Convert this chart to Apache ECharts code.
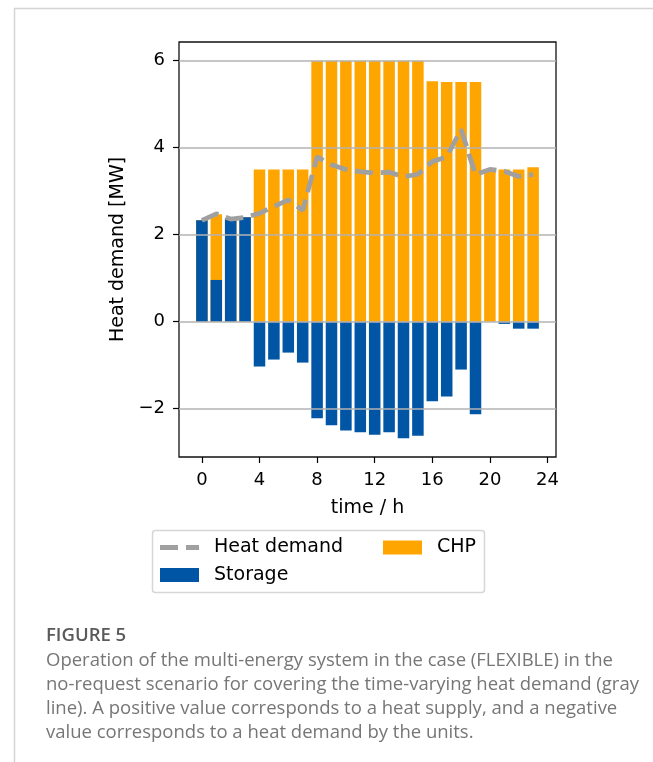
<!DOCTYPE html>
<html>
<head>
<meta charset="utf-8">
<script src="https://cdn.jsdelivr.net/npm/echarts@6/dist/echarts.min.js"></script>
<style>
html,body{margin:0;padding:0;background:#fff;}
#chart{width:653px;height:762px;}
</style>
</head>
<body>
<div id="chart"></div>
<script>
// ---- data ----
const hours = [0,1,2,3,4,5,6,7,8,9,10,11,12,13,14,15,16,17,18,19,20,21,22,23];
const storage = [2.33,0.96,2.38,2.40,-1.03,-0.87,-0.71,-0.94,-2.22,-2.38,-2.50,-2.54,-2.60,-2.54,-2.68,-2.62,-1.83,-1.72,-1.10,-2.13,0.00,-0.05,-0.16,-0.16];
const chp = [0,1.51,0,0,3.50,3.50,3.50,3.50,6.00,6.00,6.00,6.00,6.00,6.00,6.00,6.00,5.53,5.51,5.51,5.51,3.50,3.50,3.50,3.55];
const demand = [2.33,2.48,2.36,2.40,2.49,2.65,2.80,2.56,3.79,3.61,3.50,3.45,3.42,3.44,3.33,3.39,3.68,3.79,4.42,3.38,3.50,3.46,3.34,3.38];
const xTicks = [0,4,8,12,16,20,24];
const yTicks = [-2,0,2,4,6];
const captionTitle = 'FIGURE 5';
const captionLines = [
  'Operation of the multi-energy system in the case (FLEXIBLE) in the',
  'no-request scenario for covering the time-varying heat demand (gray',
  'line). A positive value corresponds to a heat supply, and a negative',
  'value corresponds to a heat demand by the units.'
];

// ---- layout ----
const G = {left:179, top:42, width:377, height:415};
const X = {min:-1.59, max:24.59};
const Y = {min:-3.11, max:6.43};
const pxPerX = G.width/(X.max-X.min);
const barW = 0.8*pxPerX;
const FONT = 'DejaVu Sans';
const minus = v => v<0 ? '\u2212'+Math.abs(v) : String(v);
// CHP sits on top of the positive part of storage
const chpTop = chp.map((c,i)=> c + Math.max(storage[i],0));

const chart = echarts.init(document.getElementById('chart'), null, {renderer:'canvas'});
const capFont = 'Open Sans';
const graphics = [
  {type:'line', shape:{x1:14,y1:8.5,x2:653,y2:8.5}, style:{stroke:'#d4d4d4',lineWidth:1.5}, silent:true},
  {type:'line', shape:{x1:14.5,y1:8,x2:14.5,y2:762}, style:{stroke:'#d4d4d4',lineWidth:1.5}, silent:true},
  {type:'rect', shape:{x:152.5,y:530.5,width:332,height:62,r:3}, style:{fill:'#fff',stroke:'#d6d6d6',lineWidth:1.5}, z:-1, silent:true},
  {type:'text', left:46, top:626, style:{text:captionTitle, font:'600 18.5px "'+capFont+'"', fill:'#5a5a5a'}, silent:true}
];
captionLines.forEach((t,i)=>{
  graphics.push({type:'text', left:46, top:651+24*i, style:{text:t, font:'18.5px "'+capFont+'"', fill:'#767676'}, silent:true});
});

const option = {
  animation:false,
  textStyle:{fontFamily:FONT},
  grid:{left:G.left, top:G.top, width:G.width, height:G.height, show:true, borderColor:'#111', borderWidth:1.3, backgroundColor:'transparent'},
  xAxis:{
    type:'value', min:X.min, max:X.max,
    name:'time / h', nameLocation:'middle', nameGap:42,
    nameTextStyle:{fontSize:19, color:'#000', fontFamily:FONT},
    axisLine:{show:false, onZero:false},
    axisTick:{show:true, length:6, inside:false, customValues:xTicks, lineStyle:{color:'#000', width:1.2}},
    axisLabel:{customValues:xTicks, fontSize:18, color:'#000', margin:14, fontFamily:FONT},
    splitLine:{show:false}
  },
  yAxis:{
    type:'value', min:Y.min, max:Y.max, z:3,
    name:'Heat demand [MW]', nameLocation:'middle', nameGap:45, nameRotate:90,
    nameTextStyle:{fontSize:19, color:'#000', fontFamily:FONT},
    axisLine:{show:false, onZero:false},
    axisTick:{show:true, length:6, inside:false, customValues:yTicks, lineStyle:{color:'#000', width:1.2}},
    axisLabel:{customValues:yTicks, fontSize:18, color:'#000', margin:14, fontFamily:FONT, formatter:minus},
    splitLine:{show:true, lineStyle:{color:'#b3b3b3', width:1.5}}
  },
  legend:[
    {data:[{name:'Heat demand', icon:'path://M0,0H18V5H0Z M26,0H39V5H26Z'}], left:160, top:538, padding:0, itemWidth:39, itemHeight:5,
     textStyle:{fontSize:19, color:'#000', fontFamily:FONT, padding:[0,0,0,10]}},
    {data:[{name:'Storage', icon:'rect'}], left:160, top:565.5, padding:0, itemWidth:39, itemHeight:14,
     textStyle:{fontSize:19, color:'#000', fontFamily:FONT, padding:[0,0,0,10]}},
    {data:[{name:'CHP', icon:'rect'}], left:383, top:538, padding:0, itemWidth:39, itemHeight:14,
     textStyle:{fontSize:19, color:'#000', fontFamily:FONT, padding:[0,0,0,10]}}
  ],
  graphic:graphics,
  series:[
    {name:'CHP', type:'bar', barWidth:barW, barGap:'-100%', z:2,
     itemStyle:{color:'#ffa500'}, data:hours.map((h,i)=>[h, chpTop[i]])},
    {name:'Storage', type:'bar', barWidth:barW, barGap:'-100%', z:2,
     itemStyle:{color:'#0055a4'}, data:hours.map((h,i)=>[h, storage[i]])},
    {name:'Heat demand', type:'line', symbol:'none', z:5, color:'#a0a0a0',
     lineStyle:{color:'#a0a0a0', width:4.8, type:[18,7.8]}, data:hours.map((h,i)=>[h, demand[i]])}
  ]
};
chart.setOption(option);
</script>
</body>
</html>
